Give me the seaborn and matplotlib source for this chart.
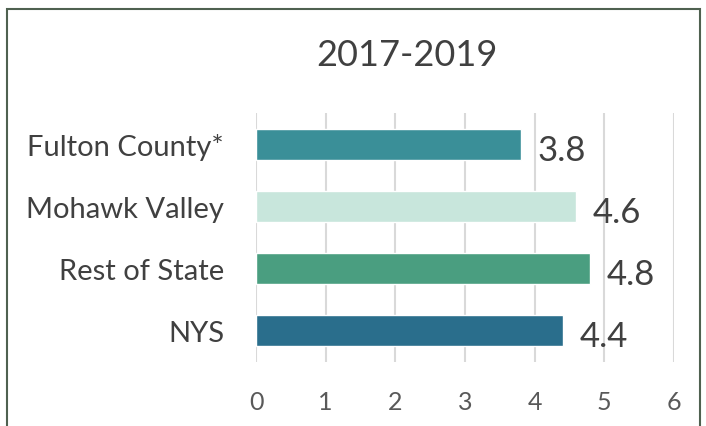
import pandas as pd
import numpy as np
import seaborn as sns
import matplotlib
matplotlib.use('Agg')
import matplotlib.pyplot as plt
from matplotlib.patches import Rectangle

regions = ['Fulton County*', 'Mohawk Valley', 'Rest of State', 'NYS']
rates = [3.8, 4.6, 4.8, 4.4]
bar_colors = ['#3a8f98', '#c8e6dc', '#4a9e80', '#2a6e8c']
x_ticks = [0, 1, 2, 3, 4, 5, 6]
title = '2017-2019'

sns.set_style('white')
plt.rcParams['font.family'] = ['Lato', 'DejaVu Sans']

df = pd.DataFrame({'region': regions, 'rate': rates})

fig = plt.figure(figsize=(7.06, 4.27), dpi=100)
ax = fig.add_axes([256 / 706, 1 - 363 / 427, 418 / 706, 249 / 427])

sns.barplot(data=df, x='rate', y='region', hue='region', palette=bar_colors,
            orient='h', width=0.5, legend=False, ax=ax, saturation=1)

ax.set_xlim(0, 6)
ax.set_ylim(3.5, -0.5)
ax.set_xticks(x_ticks)
ax.xaxis.grid(True, color='#d9d9d9', linewidth=1.5)
ax.set_axisbelow(True)
for s in ax.spines.values():
    s.set_visible(False)
ax.set_xlabel('')
ax.set_ylabel('')
ax.tick_params(axis='x', length=0, pad=20, labelsize=18, labelcolor='#595959')
ax.tick_params(axis='y', length=0, pad=23, labelsize=21, labelcolor='#404040')

for i, v in enumerate(rates):
    ax.annotate(f'{v}', (v, i), xytext=(12, -4), textcoords='offset points',
                va='center', ha='left', fontsize=25, color='#404040')

fig.text(407 / 706, 1 - 55 / 427, title, ha='center', va='center',
         fontsize=26, color='#404040')

# chart frame
fig.patches.append(Rectangle((7 / 706, -0.01), 693 / 706, 1 - 10 / 427 + 0.01,
                             transform=fig.transFigure, fill=False,
                             edgecolor='#4f6150', linewidth=1.5))

fig.savefig('out.png', dpi=100)
plt.close()
